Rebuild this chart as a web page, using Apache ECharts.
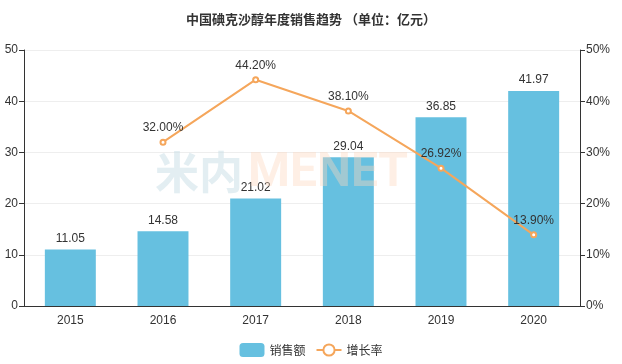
<!DOCTYPE html>
<html><head><meta charset="utf-8">
<script src="https://cdn.jsdelivr.net/npm/echarts@6/dist/echarts.min.js"></script>
<style>html,body{margin:0;padding:0;background:#fff}#c{width:622px;height:364px}</style>
</head><body><div id="c"></div>
<script>
const years = ['2015','2016','2017','2018','2019','2020'];
const sales = [11.05, 14.58, 21.02, 29.04, 36.85, 41.97];
const growth = [null, 32.00, 44.20, 38.10, 26.92, 13.90];
const leftTicks = [0, 10, 20, 30, 40, 50];
const rightTicks = [0, 10, 20, 30, 40, 50];

const chart = echarts.init(document.getElementById('c'));
const font = '"Noto Sans CJK SC", "Noto Sans", sans-serif';
chart.setOption({
  animation: false,
  title: {text: '中国碘克沙醇年度销售趋势 （单位：亿元）', left: 'center', top: 8,
    textStyle: {fontSize: 13, fontWeight: 'bold', color: '#333', fontFamily: font}},
  grid: {left: 24, right: 42, top: 50, bottom: 58},
  legend: {bottom: 2, itemWidth: 25, itemHeight: 14, itemGap: 10,
    textStyle: {fontSize: 12, color: '#333', fontFamily: font},
    data: ['销售额', '增长率']},
  graphic: [{type: 'text', left: 155, top: 150, z: 100, silent: true,
    style: {text: '米内', fontSize: 44, fontWeight: 'bold', fill: 'rgba(200,222,230,0.5)', fontFamily: font}},
    {type: 'text', left: 248, top: 150, z: 100, silent: true,
    style: {text: 'MENET', fontSize: 48, fontWeight: 'bold', fill: 'rgba(253,215,190,0.4)', fontFamily: 'Roboto, sans-serif'}}],
  xAxis: {type: 'category', data: years,
    axisLine: {lineStyle: {color: '#333'}}, axisTick: {lineStyle: {color: '#333'}},
    axisLabel: {color: '#333', fontSize: 12, margin: 9}},
  yAxis: [{type: 'value', min: leftTicks[0], max: leftTicks[leftTicks.length-1], interval: 10,
    axisLine: {show: true, lineStyle: {color: '#333'}}, axisTick: {show: true, lineStyle: {color: '#333'}},
    axisLabel: {color: '#333', fontSize: 12, margin: 6},
    splitLine: {lineStyle: {color: '#eee'}}},
   {type: 'value', min: rightTicks[0], max: rightTicks[rightTicks.length-1], interval: 10,
    axisLine: {show: true, lineStyle: {color: '#333'}}, axisTick: {show: true, lineStyle: {color: '#333'}},
    axisLabel: {color: '#333', fontSize: 12, formatter: '{value}%', margin: 6},
    splitLine: {show: false}}],
  series: [{name: '销售额', type: 'bar', data: sales, barWidth: '55%',
    itemStyle: {color: '#66c0e0'},
    label: {show: true, position: 'top', color: '#333', fontSize: 12, formatter: p => p.value.toFixed(2)}},
   {name: '增长率', type: 'line', yAxisIndex: 1, data: growth, connectNulls: false,
    symbol: 'emptyCircle', symbolSize: 5,
    lineStyle: {color: '#f5a65b', width: 2}, itemStyle: {color: '#f5a65b'},
    label: {show: true, position: 'top', color: '#333', fontSize: 12, formatter: p => p.value.toFixed(2) + '%'}}]
});
</script></body></html>
